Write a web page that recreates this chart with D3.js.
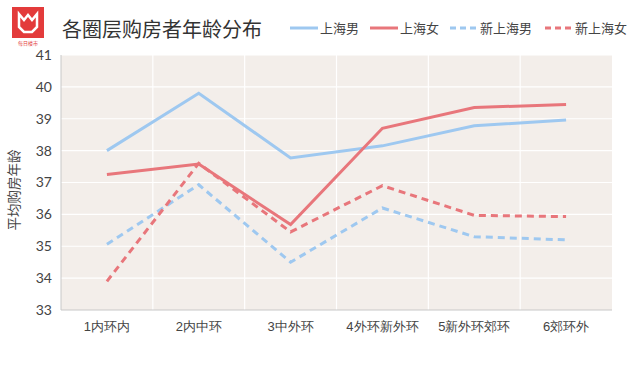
<!DOCTYPE html>
<html lang="zh">
<head>
<meta charset="UTF-8">
<title>各圈层购房者年龄分布</title>
<script src="https://d3js.org/d3.v7.min.js"></script>
<style>
    body { margin: 0; background: #fff; }
    svg { display: block; font-family: "Noto Sans CJK SC", "Noto Sans", sans-serif; }
    .axis text { fill: #444; }
    .axis path, .axis line { stroke: none; }
</style>
</head>
<body>
<svg width="640" height="366"></svg>
<script>
    // Data
    const categories = ["1内环内", "2内中环", "3中外环", "4外环新外环", "5新外环郊环", "6郊环外"];
    const shMale = [38.0, 39.8, 37.77, 38.15, 38.78, 38.96];
    const shFemale = [37.25, 37.58, 35.68, 38.7, 39.35, 39.45];
    const newShMale = [35.06, 36.93, 34.5, 36.2, 35.3, 35.2];
    const newShFemale = [33.9, 37.6, 35.45, 36.9, 35.97, 35.93];
    const yTicks = [33, 34, 35, 36, 37, 38, 39, 40, 41];

    const blue = "#9ec8f0";
    const red = "#e8767b";

    const series = [
        { name: "上海男", values: shMale, color: blue, dash: null },
        { name: "上海女", values: shFemale, color: red, dash: null },
        { name: "新上海男", values: newShMale, color: blue, dash: "7,5" },
        { name: "新上海女", values: newShFemale, color: red, dash: "7,5" }
    ];

    const svg = d3.select("svg");
    const plotL = 61, plotR = 612, plotT = 55, plotB = 310;

    const x = d3.scaleBand().domain(categories).range([plotL, plotR]);
    const y = d3.scaleLinear().domain([33, 41]).range([plotB, plotT]);

    // plot background
    svg.append("rect")
        .attr("x", plotL).attr("y", plotT)
        .attr("width", plotR - plotL).attr("height", plotB - plotT)
        .attr("fill", "#f3eeea");

    // grid lines
    svg.append("g").selectAll("line").data(yTicks.slice(1))
        .join("line")
        .attr("x1", plotL).attr("x2", plotR)
        .attr("y1", d => y(d)).attr("y2", d => y(d))
        .attr("stroke", "#fff").attr("stroke-width", 1.2);
    svg.append("g").selectAll("line").data(categories.slice(1))
        .join("line")
        .attr("x1", d => x(d)).attr("x2", d => x(d))
        .attr("y1", plotT).attr("y2", plotB)
        .attr("stroke", "#fff").attr("stroke-width", 1.2);

    // axis lines
    svg.append("line").attr("x1", plotL).attr("x2", plotL).attr("y1", plotT).attr("y2", plotB)
        .attr("stroke", "#c8c8c8");
    svg.append("line").attr("x1", plotL).attr("x2", plotR).attr("y1", plotB).attr("y2", plotB)
        .attr("stroke", "#c8c8c8");

    // axes
    svg.append("g").attr("class", "axis")
        .attr("transform", `translate(${plotL},0)`)
        .call(d3.axisLeft(y).tickValues(yTicks).tickSize(0).tickPadding(9))
        .selectAll("text").style("font-size", "14px").style("font-family", "Lato, 'Noto Sans', sans-serif");
    svg.append("g").attr("class", "axis")
        .attr("transform", `translate(0,${plotB})`)
        .call(d3.axisBottom(x).tickSize(0).tickPadding(12))
        .selectAll("text").style("font-size", "13px");

    // y title
    svg.append("text")
        .attr("transform", "translate(19,190) rotate(-90)")
        .attr("text-anchor", "middle")
        .attr("fill", "#444")
        .style("font-size", "13.5px")
        .text("平均购房年龄");

    // lines
    const line = d3.line()
        .x((d, i) => x(categories[i]) + x.bandwidth() / 2)
        .y(d => y(d));

    svg.append("g").selectAll("path").data(series)
        .join("path")
        .attr("d", d => line(d.values))
        .attr("fill", "none")
        .attr("stroke", d => d.color)
        .attr("stroke-width", 3)
        .attr("stroke-dasharray", d => d.dash);

    // title
    svg.append("text")
        .attr("x", 62).attr("y", 37)
        .attr("fill", "#333")
        .style("font-size", "20px")
        .text("各圈层购房者年龄分布");

    // legend
    const legendX = [290, 370, 450, 545];
    const lg = svg.append("g").selectAll("g").data(series)
        .join("g")
        .attr("transform", (d, i) => `translate(${legendX[i]},28)`);
    lg.append("line")
        .attr("x1", 0).attr("x2", 28)
        .attr("stroke", d => d.color)
        .attr("stroke-width", 3)
        .attr("stroke-dasharray", d => d.dash ? "6,4" : null);
    lg.append("text")
        .attr("x", 30).attr("y", 5)
        .attr("fill", "#444")
        .style("font-size", "13px")
        .text(d => d.name);

    // logo
    const logo = svg.append("g");
    logo.append("rect").attr("x", 12).attr("y", 7).attr("width", 32).attr("height", 31).attr("fill", "#e33b3b");
    logo.append("path")
        .attr("d", "M19,14 L24,20 L28,15 L32,20 L37,14 L37,27 L32,32 L24,32 L19,27 Z")
        .attr("fill", "none").attr("stroke", "#fff").attr("stroke-width", 2.5);
    logo.append("text")
        .attr("x", 28).attr("y", 45)
        .attr("text-anchor", "middle")
        .attr("fill", "#e33b3b")
        .style("font-size", "5px")
        .text("每日楼市");
</script>
</body>
</html>
